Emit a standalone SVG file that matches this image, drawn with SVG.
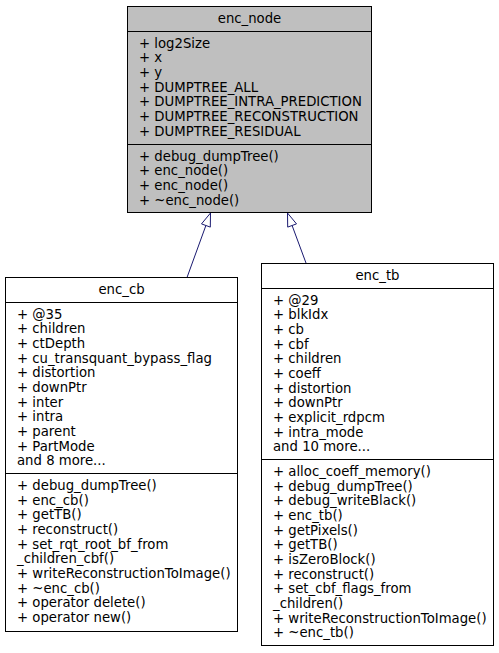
<svg xmlns="http://www.w3.org/2000/svg" width="499" height="653" viewBox="0 0 499 653">
<style>
text{font-family:"DejaVu Sans",sans-serif;font-size:13.25px;fill:#000}
.t{text-anchor:middle}
.box{stroke:#000;stroke-width:1}
.div{stroke:#000;stroke-width:1}
.edge{stroke:#191970;stroke-width:1;fill:none}
.head{stroke:#191970;stroke-width:1;fill:#fff}
</style>
<rect width="499" height="653" fill="#fff"/>
<g id="connectors">
<path class="edge" d="M187,277.5 L205.9,225.5"/>
<polygon class="head" points="210.5,213 201.5,223.9 210.3,227.1"/>
<path class="edge" d="M306,263 L292.1,225.5"/>
<polygon class="head" points="287.5,213 296.5,223.9 287.7,227.1"/>
</g>
<g id="enc_node">
<rect class="box" x="127.5" y="6.5" width="244" height="206" fill="#bfbfbf"/>
<line class="div" x1="127.5" y1="31.5" x2="371.5" y2="31.5"/>
<line class="div" x1="127.5" y1="144.5" x2="371.5" y2="144.5"/>
<text class="t" x="249.5" y="23">enc_node</text>
<text x="139">
<tspan x="139" y="47.7">+ log2Size</tspan>
<tspan x="139" dy="14.67">+ x</tspan>
<tspan x="139" dy="14.67">+ y</tspan>
<tspan x="139" dy="14.67">+ DUMPTREE_ALL</tspan>
<tspan x="139" dy="14.67">+ DUMPTREE_INTRA_PREDICTION</tspan>
<tspan x="139" dy="14.67">+ DUMPTREE_RECONSTRUCTION</tspan>
<tspan x="139" dy="14.67">+ DUMPTREE_RESIDUAL</tspan>
</text>
<text x="139">
<tspan x="139" y="160.7">+ debug_dumpTree()</tspan>
<tspan x="139" dy="14.67">+ enc_node()</tspan>
<tspan x="139" dy="14.67">+ enc_node()</tspan>
<tspan x="139" dy="14.67">+ ~enc_node()</tspan>
</text>
</g>
<g id="enc_cb">
<rect class="box" x="5.5" y="277.5" width="232" height="354" fill="#fff"/>
<line class="div" x1="5.5" y1="302.5" x2="237.5" y2="302.5"/>
<line class="div" x1="5.5" y1="473.5" x2="237.5" y2="473.5"/>
<text class="t" x="121.5" y="294">enc_cb</text>
<text x="17">
<tspan x="17" y="318.7">+ @35</tspan>
<tspan x="17" dy="14.67">+ children</tspan>
<tspan x="17" dy="14.67">+ ctDepth</tspan>
<tspan x="17" dy="14.67">+ cu_transquant_bypass_flag</tspan>
<tspan x="17" dy="14.67">+ distortion</tspan>
<tspan x="17" dy="14.67">+ downPtr</tspan>
<tspan x="17" dy="14.67">+ inter</tspan>
<tspan x="17" dy="14.67">+ intra</tspan>
<tspan x="17" dy="14.67">+ parent</tspan>
<tspan x="17" dy="14.67">+ PartMode</tspan>
<tspan x="17" dy="14.67">and 8 more...</tspan>
</text>
<text x="17">
<tspan x="17" y="490.1">+ debug_dumpTree()</tspan>
<tspan x="17" dy="14.67">+ enc_cb()</tspan>
<tspan x="17" dy="14.67">+ getTB()</tspan>
<tspan x="17" dy="14.67">+ reconstruct()</tspan>
<tspan x="17" dy="14.67">+ set_rqt_root_bf_from</tspan>
<tspan x="17" dy="14.67">_children_cbf()</tspan>
<tspan x="17" dy="14.67">+ writeReconstructionToImage()</tspan>
<tspan x="17" dy="14.67">+ ~enc_cb()</tspan>
<tspan x="17" dy="14.67">+ operator delete()</tspan>
<tspan x="17" dy="14.67">+ operator new()</tspan>
</text>
</g>
<g id="enc_tb">
<rect class="box" x="261.5" y="263.5" width="232" height="382" fill="#fff"/>
<line class="div" x1="261.5" y1="288.5" x2="493.5" y2="288.5"/>
<line class="div" x1="261.5" y1="459.5" x2="493.5" y2="459.5"/>
<text class="t" x="377.5" y="280">enc_tb</text>
<text x="273">
<tspan x="273" y="304.7">+ @29</tspan>
<tspan x="273" dy="14.67">+ blkIdx</tspan>
<tspan x="273" dy="14.67">+ cb</tspan>
<tspan x="273" dy="14.67">+ cbf</tspan>
<tspan x="273" dy="14.67">+ children</tspan>
<tspan x="273" dy="14.67">+ coeff</tspan>
<tspan x="273" dy="14.67">+ distortion</tspan>
<tspan x="273" dy="14.67">+ downPtr</tspan>
<tspan x="273" dy="14.67">+ explicit_rdpcm</tspan>
<tspan x="273" dy="14.67">+ intra_mode</tspan>
<tspan x="273" dy="14.67">and 10 more...</tspan>
</text>
<text x="273">
<tspan x="273" y="476.1">+ alloc_coeff_memory()</tspan>
<tspan x="273" dy="14.67">+ debug_dumpTree()</tspan>
<tspan x="273" dy="14.67">+ debug_writeBlack()</tspan>
<tspan x="273" dy="14.67">+ enc_tb()</tspan>
<tspan x="273" dy="14.67">+ getPixels()</tspan>
<tspan x="273" dy="14.67">+ getTB()</tspan>
<tspan x="273" dy="14.67">+ isZeroBlock()</tspan>
<tspan x="273" dy="14.67">+ reconstruct()</tspan>
<tspan x="273" dy="14.67">+ set_cbf_flags_from</tspan>
<tspan x="273" dy="14.67">_children()</tspan>
<tspan x="273" dy="14.67">+ writeReconstructionToImage()</tspan>
<tspan x="273" dy="14.67">+ ~enc_tb()</tspan>
</text>
</g>
</svg>
